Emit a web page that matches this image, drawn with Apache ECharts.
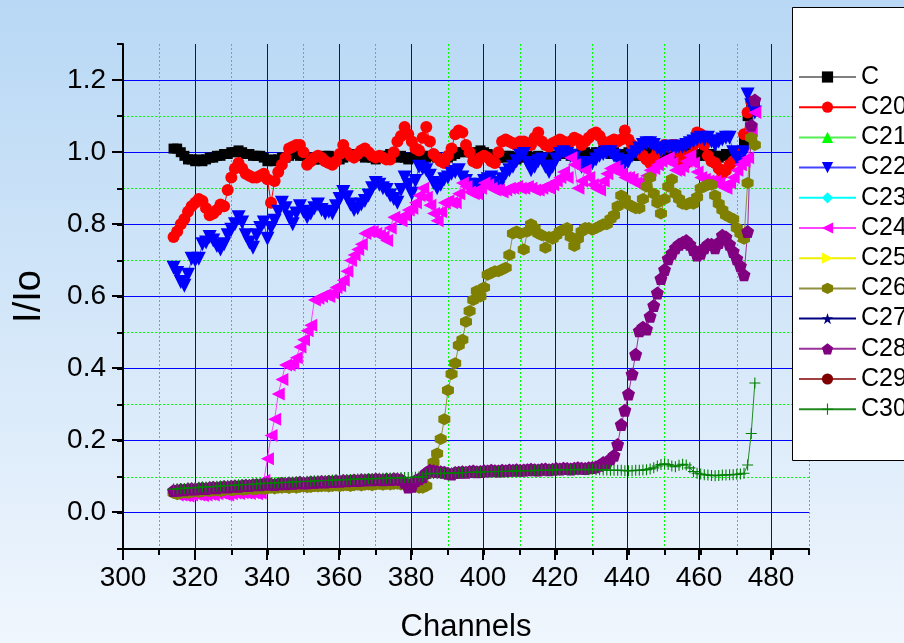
<!DOCTYPE html>
<html><head><meta charset="utf-8">
<script src="https://cdn.jsdelivr.net/npm/echarts@6/dist/echarts.min.js"></script>
<style>html,body{margin:0;padding:0;}#c{width:904px;height:643px;}</style>
</head><body><div id="c"></div>
<script>
const channels = [
314,315,316,317,318,319,320,321,322,323,
324,325,326,327,328,329,330,331,332,333,
334,335,336,337,338,339,340,341,342,343,
344,345,346,347,348,349,350,351,352,353,
354,355,356,357,358,359,360,361,362,363,
364,365,366,367,368,369,370,371,372,373,
374,375,376,377,378,379,380,381,382,383,
384,385,386,387,388,389,390,391,392,393,
394,395,396,397,398,399,400,401,402,403,
404,405,406,407,408,409,410,411,412,413,
414,415,416,417,418,419,420,421,422,423,
424,425,426,427,428,429,430,431,432,433,
434,435,436,437,438,439,440,441,442,443,
444,445,446,447,448,449,450,451,452,453,
454,455,456,457,458,459,460,461,462,463,
464,465,466,467,468,469,470,471,472,473,
474,475];

const seriesNames = ['C','C20','C21','C22','C23','C24','C25','C26','C27','C28','C29','C30'];

const valC = [
1.01,1.01,1.00,0.99,0.98,0.98,0.975,0.98,0.975,0.98,
0.985,0.985,0.99,0.99,0.995,0.995,1.0,1.0,1.005,1.0,
0.995,0.995,0.99,0.99,0.99,0.985,0.975,0.98,0.975,0.98,
0.985,0.985,0.99,0.995,0.995,0.99,0.99,0.985,0.985,0.98,
0.98,0.985,0.99,0.99,0.985,0.98,0.98,0.985,0.99,0.995,
0.99,0.995,0.99,0.985,0.99,0.985,0.98,0.985,0.99,0.99,
0.995,0.99,0.985,0.99,0.985,0.98,0.985,0.99,0.995,0.99,
0.985,0.99,0.99,0.985,0.98,0.98,0.985,0.99,0.995,1.0,
1.0,1.005,1.0,0.995,1.0,1.005,1.0,0.995,0.99,0.99,
0.985,0.985,0.99,0.99,0.985,0.98,0.985,0.99,0.99,0.985,
0.985,0.99,0.985,0.98,0.985,0.99,0.99,0.995,1.0,0.995,
0.99,0.99,0.995,1.0,1.0,0.995,0.99,1.0,1.0,1.005,
1.0,0.995,1.0,0.995,0.99,0.995,1.0,0.995,0.99,0.99,
0.995,1.0,1.0,0.995,0.99,0.99,0.995,1.0,0.995,0.99,
0.99,0.995,1.0,0.995,0.99,0.99,0.995,0.99,0.99,0.995,
0.99,0.985,0.99,0.995,0.99,0.985,0.99,1.0,1.03,1.10,
1.14,1.13];

const valC20 = [
0.765,0.78,0.80,0.815,0.835,0.85,0.86,0.87,0.865,0.845,
0.825,0.83,0.84,0.855,0.85,0.895,0.93,0.955,0.97,0.955,
0.94,0.935,0.93,0.93,0.935,0.94,0.925,0.86,0.92,0.945,
0.965,0.985,1.01,1.015,1.02,1.02,1.0,0.965,0.975,0.985,
0.99,0.985,0.975,0.97,0.965,0.975,0.995,1.02,1.0,0.99,
0.985,0.995,1.005,1.01,1.0,0.99,0.985,0.99,0.985,0.98,
0.98,1.0,1.03,1.045,1.07,1.05,1.03,1.01,1.005,1.04,
1.07,1.03,0.995,0.985,0.975,0.97,0.99,1.01,1.05,1.06,
1.055,1.02,1.0,0.975,0.97,0.985,0.99,0.985,0.975,0.97,
1.0,1.03,1.035,1.03,1.025,1.02,1.03,1.03,1.025,1.02,
1.04,1.055,1.03,1.02,1.015,1.025,1.03,1.035,1.03,1.025,
1.03,1.04,1.035,1.02,1.03,1.04,1.05,1.055,1.045,1.03,
1.025,1.03,1.035,1.03,1.035,1.06,1.035,1.02,1.01,1.0,
0.99,0.98,0.97,0.985,1.0,1.01,1.02,1.015,1.02,1.02,
1.0,0.975,0.97,0.99,1.02,1.055,1.05,1.02,0.99,0.975,
0.97,0.955,0.94,0.95,0.965,0.975,0.985,1.0,1.05,1.11,
1.14,1.12];

const valC21 = [];

const valC22 = [
0.68,0.665,0.64,0.63,0.66,0.705,0.70,0.705,0.745,0.75,
0.765,0.755,0.74,0.73,0.745,0.77,0.785,0.80,0.82,0.805,
0.77,0.75,0.735,0.77,0.79,0.805,0.76,0.79,0.81,0.835,
0.86,0.845,0.82,0.80,0.83,0.85,0.835,0.82,0.83,0.845,
0.855,0.84,0.83,0.835,0.83,0.85,0.87,0.89,0.875,0.855,
0.84,0.845,0.855,0.865,0.88,0.90,0.915,0.91,0.90,0.895,
0.88,0.87,0.86,0.895,0.93,0.91,0.885,0.92,0.96,0.955,
0.95,0.935,0.915,0.90,0.91,0.925,0.93,0.94,0.945,0.95,
0.93,0.92,0.91,0.905,0.90,0.91,0.92,0.925,0.93,0.915,
0.90,0.925,0.94,0.95,0.96,0.975,0.99,0.995,0.97,0.95,
0.96,0.975,0.98,0.96,0.945,0.96,0.98,0.995,1.0,0.995,
0.99,0.985,0.97,0.96,0.965,0.97,0.97,0.98,0.99,0.995,
1.0,1.0,0.99,0.98,0.975,0.97,0.975,0.99,1.0,1.01,
1.02,1.025,1.025,1.02,1.01,1.005,1.01,1.015,1.015,1.01,
1.015,1.015,1.02,1.025,1.03,1.035,1.04,1.035,1.04,1.03,
1.02,1.03,1.035,1.04,1.04,1.0,0.985,0.97,1.0,1.16,
1.13,1.11];

const valC23 = [];

const valC24 = [
0.055,0.05,0.05,0.048,0.047,0.05,0.052,0.05,0.048,0.05,
0.052,0.05,0.053,0.055,0.052,0.05,0.053,0.055,0.054,0.056,
0.055,0.054,0.056,0.053,0.055,0.09,0.15,0.215,0.26,0.33,
0.37,0.41,0.41,0.415,0.43,0.46,0.48,0.505,0.52,0.59,
0.595,0.60,0.605,0.60,0.61,0.625,0.63,0.645,0.67,0.70,
0.715,0.73,0.745,0.775,0.78,0.78,0.775,0.77,0.765,0.755,
0.79,0.82,0.815,0.81,0.825,0.84,0.845,0.86,0.88,0.90,
0.875,0.853,0.83,0.81,0.835,0.86,0.865,0.86,0.86,0.885,
0.915,0.905,0.89,0.885,0.885,0.90,0.915,0.91,0.90,0.895,
0.895,0.89,0.895,0.90,0.90,0.905,0.90,0.90,0.905,0.90,
0.895,0.895,0.90,0.905,0.90,0.91,0.92,0.93,0.945,0.93,
0.985,0.965,0.90,0.92,0.95,0.93,0.91,0.90,0.895,0.92,
0.94,0.955,0.96,0.95,0.94,0.93,0.93,0.925,0.915,0.91,
0.92,0.935,0.95,0.955,0.965,0.975,0.98,0.985,0.97,0.95,
0.95,0.96,0.975,0.99,0.97,0.945,0.93,0.925,0.92,0.92,
0.92,0.915,0.905,0.90,0.915,0.93,0.95,0.965,0.975,0.985,
1.06,1.11];

const valC25 = [];

const valC26 = [
0.055,0.052,0.055,0.057,0.055,0.058,0.06,0.058,0.06,0.062,
0.06,0.062,0.063,0.06,0.063,0.065,0.062,0.064,0.066,0.064,
0.065,0.067,0.065,0.066,0.068,0.066,0.068,0.07,0.068,0.07,
0.07,0.071,0.069,0.072,0.07,0.072,0.073,0.071,0.072,0.074,
0.073,0.074,0.075,0.073,0.075,0.076,0.074,0.076,0.077,0.075,
0.077,0.078,0.076,0.078,0.079,0.077,0.079,0.08,0.078,0.08,
0.079,0.08,0.081,0.079,0.08,0.078,0.076,0.074,0.07,0.07,
0.075,0.11,0.14,0.165,0.205,0.26,0.34,0.385,0.415,0.465,
0.48,0.53,0.56,0.59,0.615,0.60,0.625,0.66,0.665,0.67,
0.67,0.675,0.68,0.715,0.775,0.78,0.775,0.73,0.78,0.80,
0.79,0.775,0.77,0.735,0.765,0.76,0.77,0.78,0.785,0.79,
0.765,0.74,0.76,0.78,0.79,0.79,0.785,0.79,0.795,0.80,
0.80,0.815,0.825,0.85,0.88,0.87,0.855,0.85,0.845,0.845,
0.87,0.905,0.93,0.885,0.86,0.83,0.87,0.905,0.925,0.885,
0.87,0.857,0.855,0.86,0.857,0.875,0.90,0.905,0.91,0.91,
0.88,0.857,0.84,0.825,0.82,0.815,0.79,0.775,0.76,0.915,
1.04,1.02];

const valC27 = [];

const valC28 = [
0.062,0.063,0.065,0.064,0.066,0.067,0.066,0.068,0.069,0.068,
0.07,0.071,0.07,0.072,0.073,0.072,0.074,0.075,0.074,0.076,
0.077,0.076,0.078,0.079,0.078,0.08,0.081,0.08,0.079,0.081,
0.082,0.081,0.083,0.082,0.084,0.085,0.083,0.084,0.086,0.085,
0.086,0.087,0.086,0.088,0.087,0.089,0.088,0.09,0.089,0.09,
0.091,0.09,0.092,0.091,0.093,0.092,0.094,0.093,0.092,0.094,
0.093,0.095,0.094,0.093,0.085,0.072,0.074,0.09,0.095,0.10,
0.112,0.118,0.117,0.115,0.114,0.113,0.11,0.108,0.112,0.113,
0.114,0.113,0.115,0.116,0.114,0.115,0.117,0.116,0.118,0.117,
0.116,0.118,0.117,0.119,0.118,0.12,0.118,0.119,0.12,0.121,
0.12,0.119,0.121,0.122,0.12,0.121,0.123,0.122,0.124,0.123,
0.122,0.124,0.125,0.124,0.123,0.125,0.126,0.128,0.132,0.14,
0.14,0.15,0.16,0.19,0.245,0.285,0.33,0.385,0.44,0.505,
0.515,0.51,0.545,0.575,0.61,0.65,0.675,0.705,0.72,0.735,
0.745,0.75,0.755,0.745,0.73,0.715,0.72,0.735,0.745,0.745,
0.735,0.75,0.77,0.765,0.745,0.725,0.705,0.685,0.66,0.78,
1.075,1.145];

const valC29 = [];

const valC30 = [
0.066,0.067,0.068,0.068,0.069,0.07,0.07,0.071,0.072,0.072,
0.073,0.073,0.074,0.075,0.075,0.076,0.076,0.077,0.078,0.078,
0.079,0.079,0.08,0.08,0.081,0.082,0.082,0.083,0.083,0.084,
0.084,0.085,0.085,0.086,0.086,0.087,0.087,0.088,0.088,0.089,
0.089,0.09,0.09,0.09,0.091,0.091,0.092,0.092,0.092,0.093,
0.093,0.094,0.094,0.094,0.095,0.095,0.095,0.096,0.096,0.096,
0.097,0.097,0.097,0.098,0.098,0.098,0.099,0.099,0.10,0.10,
0.108,0.11,0.109,0.109,0.11,0.11,0.11,0.111,0.111,0.111,
0.112,0.112,0.112,0.113,0.113,0.113,0.114,0.114,0.114,0.115,
0.115,0.115,0.115,0.116,0.116,0.116,0.117,0.117,0.117,0.117,
0.118,0.118,0.118,0.118,0.119,0.119,0.119,0.119,0.12,0.12,
0.12,0.12,0.12,0.121,0.12,0.12,0.121,0.12,0.12,0.119,
0.119,0.118,0.118,0.118,0.118,0.117,0.117,0.117,0.118,0.118,
0.119,0.12,0.122,0.125,0.13,0.134,0.136,0.134,0.13,0.128,
0.132,0.135,0.133,0.125,0.115,0.11,0.108,0.106,0.105,0.104,
0.103,0.104,0.105,0.105,0.106,0.106,0.107,0.108,0.11,0.133,
0.22,0.36];

const xMajorTicks = [300, 480, 20];
const yMajorTicks = [0, 1.2, 0.2];

const allValues = [valC, valC20, valC21, valC22, valC23, valC24, valC25, valC26, valC27, valC28, valC29, valC30];

const HEX = 'path://M50,0L93.3,25L93.3,75L50,100L6.7,75L6.7,25Z';
const PENT = 'path://M50,0L97.6,34.5L79.4,90.5L20.6,90.5L2.4,34.5Z';
const STAR = 'path://M50,0L61.8,35.5L99,35.5L69,57.5L80.5,93L50,71L19.5,93L31,57.5L1,35.5L38.2,35.5Z';
const PLUS = 'path://M45,0H55V45H100V55H55V100H45V55H0V45H45Z';

const styles = [
  {color:'#000000', line:'#808080', symbol:'rect', size:10, rot:0},
  {color:'#ff0000', line:'#ff0000', symbol:'circle', size:12, rot:0},
  {color:'#00ff00', line:'#55ee55', symbol:'triangle', size:13, rot:0},
  {color:'#0000ff', line:'#4444ff', symbol:'triangle', size:14, rot:180},
  {color:'#00ffff', line:'#00ffff', symbol:'diamond', size:13, rot:0},
  {color:'#ff00ff', line:'#ff44ff', symbol:'triangle', size:13, rot:90},
  {color:'#ffff00', line:'#eeee00', symbol:'triangle', size:13, rot:-90},
  {color:'#808000', line:'#909040', symbol:HEX, size:12, rot:0},
  {color:'#000080', line:'#000080', symbol:STAR, size:12, rot:0},
  {color:'#800080', line:'#993399', symbol:PENT, size:13, rot:0},
  {color:'#800000', line:'#a04040', symbol:'circle', size:11, rot:0},
  {color:'#008000', line:'#228822', symbol:PLUS, size:11, rot:0}
];

const SANS = "'Liberation Sans', Arial, sans-serif";

const series = seriesNames.map((name, i) => ({
  name: name,
  type: 'line',
  xAxisIndex: 0,
  yAxisIndex: 0,
  data: allValues[i].map((v, k) => [channels[k], v]),
  symbol: styles[i].symbol,
  symbolSize: styles[i].size,
  symbolRotate: styles[i].rot,
  showSymbol: true,
  itemStyle: {color: styles[i].color, borderWidth: 0},
  lineStyle: {color: styles[i].line, width: 1},
  emphasis: {disabled: true},
  animation: false,
  z: 5
}));

const chart = echarts.init(document.getElementById('c'), null, {renderer: 'canvas'});
chart.setOption({
  animation: false,
  backgroundColor: {type:'linear', x:0, y:0, x2:0, y2:1,
    colorStops:[{offset:0, color:'#b8d8f5'}, {offset:1, color:'#f0f6fd'}]},
  grid: [
    {left:123, top:44, width:686, height:505, outerBoundsMode:'none', containLabel:false},
    {left:123, top:44, width:648, height:505, outerBoundsMode:'none', containLabel:false},
    {left:123, top:80, width:686, height:432, outerBoundsMode:'none', containLabel:false}
  ],
  xAxis: [
    {type:'value', gridIndex:0, min:300, max:490, interval:10, z:0,
     axisLine:{show:true, onZero:false, lineStyle:{color:'#000', width:2}},
     axisTick:{show:true, length:6, lineStyle:{color:'#000', width:2}},
     axisLabel:{show:false},
     splitLine:{show:true, showMinLine:true, lineStyle:{color:['rgba(0,0,0,0)', '#00ff00'], type:[2,2], width:1}},
     name:'Channels', nameLocation:'middle', nameGap:63,
     nameTextStyle:{fontSize:31, fontFamily:SANS, color:'#000'}},
    {type:'value', gridIndex:1, min:xMajorTicks[0], max:xMajorTicks[1], interval:xMajorTicks[2], z:1,
     axisLine:{show:true, onZero:false, lineStyle:{color:'#000', width:2}},
     axisTick:{show:true, length:11, lineStyle:{color:'#000', width:2}},
     axisLabel:{show:true, margin:15, fontSize:28, fontFamily:SANS, color:'#000',
       formatter: v => String(v)},
     splitLine:{show:true, showMinLine:false, lineStyle:{color:'#0000ff', width:1}}},
    {type:'value', gridIndex:2, min:300, max:490, show:false}
  ],
  yAxis: [
    {type:'value', gridIndex:0, min:-0.1, max:1.3, interval:0.1, z:0,
     axisLine:{show:true, onZero:false, lineStyle:{color:'#000', width:2}},
     axisTick:{show:true, length:6, lineStyle:{color:'#000', width:2}},
     axisLabel:{show:false},
     splitLine:{show:true, showMinLine:true, showMaxLine:false, lineStyle:{color:['#00ff00', 'rgba(0,0,0,0)'], type:[2,2], width:1}},
     name:'I/Io', nameLocation:'middle', nameGap:74, nameRotate:90,
     nameTextStyle:{fontSize:38, fontFamily:SANS, color:'#000'}},
    {type:'value', gridIndex:1, min:-0.1, max:1.3, show:false},
    {type:'value', gridIndex:2, min:yMajorTicks[0], max:yMajorTicks[1], interval:yMajorTicks[2], z:1,
     axisLine:{show:true, onZero:false, lineStyle:{color:'#000', width:2}},
     axisTick:{show:true, length:11, lineStyle:{color:'#000', width:2}},
     axisLabel:{show:true, margin:17, fontSize:28, fontFamily:SANS, color:'#000',
       formatter: v => v.toFixed(1)},
     splitLine:{show:true, lineStyle:{color:'#0000ff', width:1}}}
  ],
  graphic: [
    {type:'rect', z:10, shape:{x:792.5, y:7.5, width:200, height:453},
     style:{fill:'#ffffff', stroke:'#000000', lineWidth:1}}
  ],
  legend: {
    show:true, orient:'vertical', left:798, top:64.5, z:20,
    itemWidth:57, itemHeight:14, itemGap:5.2, padding:0,
    textStyle:{fontSize:25, fontFamily:SANS, color:'#000'},
    data: seriesNames
  },
  series: series
});
</script>
</body></html>
